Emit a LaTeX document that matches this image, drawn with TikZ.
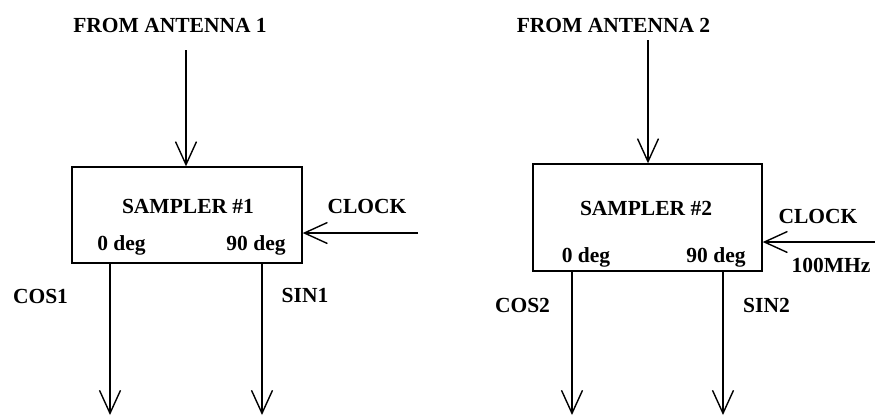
\documentclass[tikz,border=0pt]{standalone}
\usepackage{fontspec}
\setmainfont{Liberation Serif}
\usetikzlibrary{arrows.meta}
\tikzset{
  lbl/.style={inner sep=0pt, anchor=base, font=\fontsize{21.5}{25}\selectfont\bfseries},
  blk/.style={draw, line width=1.4pt, inner sep=0pt},
  conn/.style={line width=1.4pt, -{Straight Barb[length=23pt, width=21pt, line width=1.4pt]}},
}
\begin{document}
\begin{tikzpicture}[x=1pt, y=-1pt]
\useasboundingbox (0,0) rectangle (875,416);
% boxes
\node[blk, minimum width=230pt, minimum height=96pt] (box1) at (187,215) {};
\node[blk, minimum width=229pt, minimum height=107pt] (box2) at (647.5,217.5) {};
% labels
\node[lbl] (t1) at (170,32) {FROM ANTENNA 1};
\node[lbl] (t2) at (613.5,32) {FROM ANTENNA 2};
\node[lbl] (s1) at (188,213) {SAMPLER \#1};
\node[lbl] (s2) at (646,215) {SAMPLER \#2};
\node[lbl] (z1) at (121.5,250) {0 deg};
\node[lbl] (n1) at (256,250) {90 deg};
\node[lbl] (z2) at (586,262) {0 deg};
\node[lbl] (n2) at (716,262) {90 deg};
\node[lbl] (c1) at (367,213) {CLOCK};
\node[lbl] (c2) at (818,223) {CLOCK};
\node[lbl] (mhz) at (831,272) {100MHz};
\node[lbl] (cos1) at (40.5,303) {COS1};
\node[lbl] (sin1) at (305,302) {SIN1};
\node[lbl] (cos2) at (522.5,312) {COS2};
\node[lbl] (sin2) at (766.5,312) {SIN2};
% free ends
\coordinate (a1) at (186,50);
\coordinate (a2) at (648,40);
\coordinate (k1) at (418,233);
\coordinate (k2) at (875,242);
\coordinate (o1) at (110,415);
\coordinate (o2) at (262,415);
\coordinate (o3) at (572,415);
\coordinate (o4) at (723,415);
% connectors
\draw[conn] (a1) -- (a1 |- box1.north);
\draw[conn] (a2) -- (a2 |- box2.north);
\draw[conn] (k1) -- (k1 -| box1.east);
\draw[conn] (k2) -- (k2 -| box2.east);
\draw[conn] (o1 |- box1.south) -- (o1);
\draw[conn] (o2 |- box1.south) -- (o2);
\draw[conn] (o3 |- box2.south) -- (o3);
\draw[conn] (o4 |- box2.south) -- (o4);
\end{tikzpicture}
\end{document}
